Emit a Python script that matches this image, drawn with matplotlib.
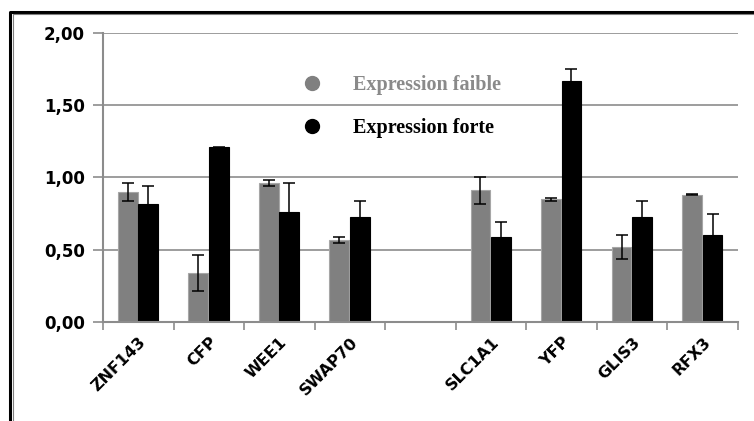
import matplotlib.pyplot as plt
import numpy as np
from matplotlib.lines import Line2D

# data (empty slot between SWAP70 and SLC1A1)
genes = ["ZNF143", "CFP", "WEE1", "SWAP70", "", "SLC1A1", "YFP", "GLIS3", "RFX3"]
faible = [0.90, 0.34, 0.96, 0.57, np.nan, 0.91, 0.85, 0.52, 0.88]
faible_err = [0.06, 0.125, 0.02, 0.02, np.nan, 0.09, 0.01, 0.085, 0.004]
forte = [0.82, 1.21, 0.76, 0.73, np.nan, 0.59, 1.67, 0.73, 0.60]
forte_err = [0.12, 0.004, 0.20, 0.11, np.nan, 0.10, 0.08, 0.11, 0.145]
yticks = [0, 0.5, 1.0, 1.5, 2.0]

grid_col = "#8c8c8c"
grey_bar = "#808080"

fig = plt.figure(figsize=(7.54, 4.21), dpi=100)
ax = fig.add_axes([0.1366, 0.2352, 0.8422, 0.6864])

x = np.arange(len(genes))
w = 0.28
ax.bar(x - 0.15, faible, w, color=grey_bar, edgecolor="#a6a6a6", linewidth=0.8, zorder=2)
ax.bar(x + 0.14, forte, w, color="black", edgecolor="black", linewidth=0.8, zorder=2)
ax.errorbar(x - 0.15, faible, yerr=faible_err, fmt="none", ecolor="black",
            elinewidth=1.1, capsize=4, capthick=1.1, zorder=3)
ax.errorbar(x + 0.14, forte, yerr=forte_err, fmt="none", ecolor="black",
            elinewidth=1.1, capsize=4, capthick=1.1, zorder=3)

ax.set_xlim(-0.5, len(genes) - 0.5)
ax.set_ylim(0, 2.0)
ax.set_yticks(yticks)
ax.set_yticklabels([f"{v:.2f}".replace(".", ",") for v in yticks],
                   fontsize=12, fontweight="bold")
ax.yaxis.grid(True, color=grid_col, linewidth=1.2, zorder=0)
ax.set_axisbelow(True)
ax.tick_params(axis="y", length=7, width=1.2, color=grid_col, pad=6)

ax.set_xticks(x)
ax.set_xticklabels(genes, rotation=45, ha="right", rotation_mode="anchor",
                   fontsize=11.5, fontweight="bold")
ax.tick_params(axis="x", which="major", length=0, pad=9)
ax.set_xticks(np.arange(-0.5, len(genes)), minor=True)
ax.tick_params(axis="x", which="minor", length=6, width=1.2, color=grid_col)

for s in ["top", "right"]:
    ax.spines[s].set_visible(False)
for s in ["left", "bottom"]:
    ax.spines[s].set_color(grid_col)
    ax.spines[s].set_linewidth(1.5)

# legend drawn as in the original
ax.plot([2.46], [1.655], "o", color=grey_bar, markersize=10, clip_on=False)
ax.plot([2.46], [1.355], "o", color="black", markersize=10, clip_on=False)
ax.text(3.04, 1.64, "Expression faible", color="#8a8a8a", fontsize=14.5,
        fontweight="bold", family="Liberation Serif", va="center")
ax.text(3.04, 1.345, "Expression forte", color="black", fontsize=14.5,
        fontweight="bold", family="Liberation Serif", va="center")

# outer frame (top and left edges)
fig.add_artist(Line2D([0.0139, 0.0139, 1.0], [0.0, 0.9715, 0.9715],
                      transform=fig.transFigure, color="black", linewidth=2.2))
fig.add_artist(Line2D([0.0175, 0.0175, 1.0], [0.0, 0.9667, 0.9667],
                      transform=fig.transFigure, color="#808080", linewidth=0.8))

fig.savefig("out.png", dpi=100)
